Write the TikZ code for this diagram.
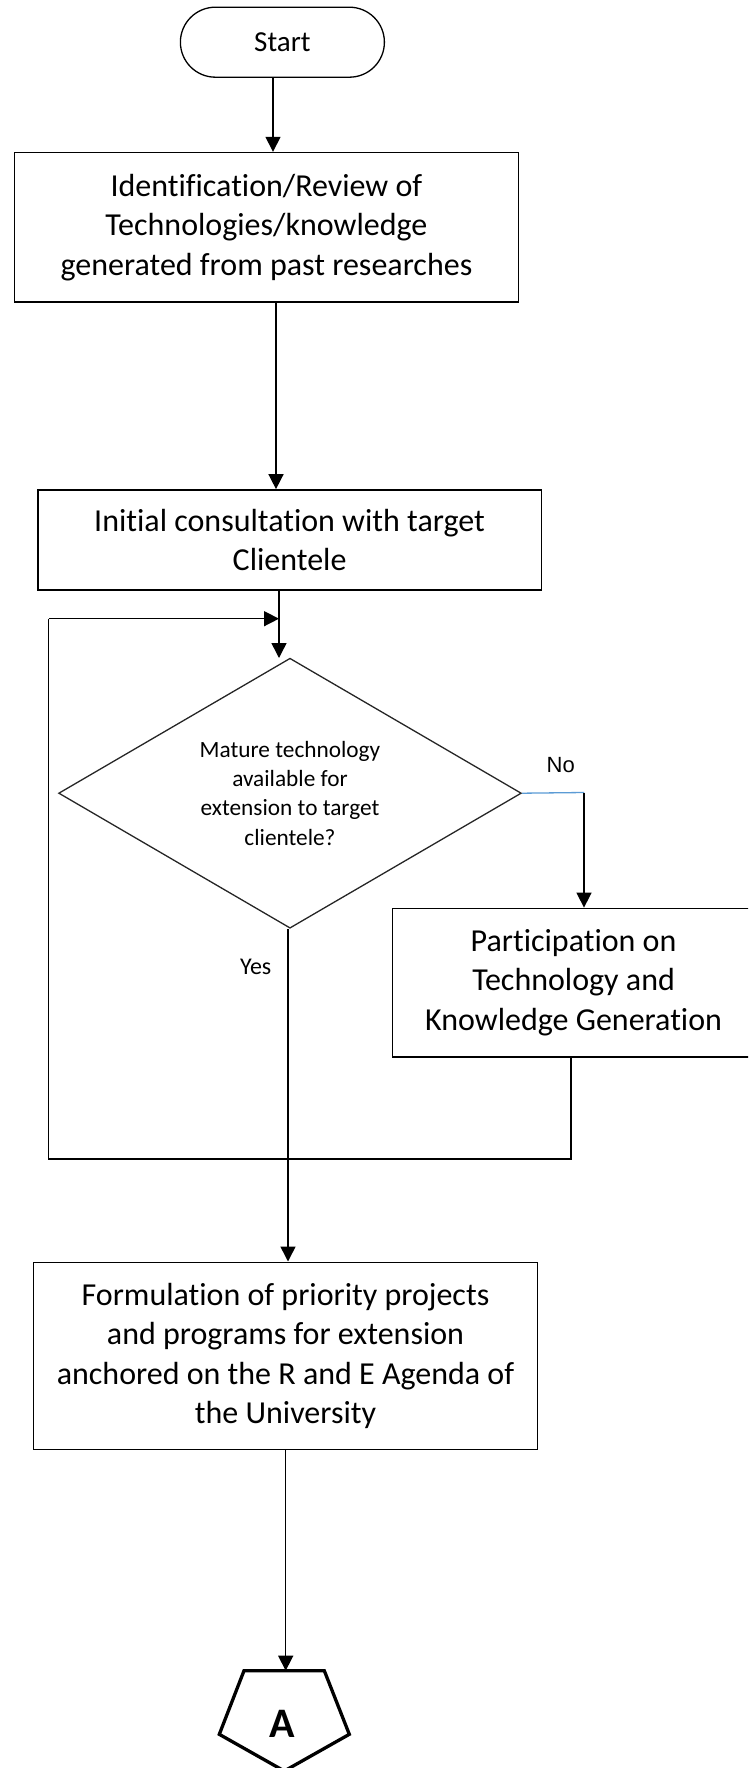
\documentclass[tikz,border=0pt]{standalone}
\usepackage{fontspec}
\setmainfont{Carlito}[Ligatures=NoCommon]
\newfontfamily\labelfont{Liberation Sans}
\usetikzlibrary{arrows.meta,shapes.geometric,shapes.misc}
\definecolor{nolink}{RGB}{91,155,213}
\begin{document}
\begin{tikzpicture}[x=1pt,y=-1pt,
  proc/.style={draw=black, line width=1.6pt, rectangle, inner sep=0pt,
    align=center, font=\fontsize{32}{39.5}\selectfont},
  terminal/.style={draw=black, line width=1.3pt, rounded rectangle, inner sep=0pt,
    minimum width=204pt, minimum height=70pt, font=\fontsize{29}{34}\selectfont},
  decision/.style={draw=black!85, line width=1.3pt, diamond, inner sep=0pt, aspect=1.714,
    minimum width=462.7pt, minimum height=270pt, align=center,
    font=\fontsize{23.3}{29.3}\selectfont},
  flow/.style={line width=1.5pt, -{Triangle[length=15pt,width=15pt]}},
  plain/.style={line width=1.5pt},
  yesno/.style={inner sep=0pt}
]
\useasboundingbox (0,0) rectangle (748,1768);
\clip (0,0) rectangle (748,1768);

% process steps
\node[terminal] (start) at (282.4,42.2) {Start};
\node[proc, minimum width=504.2pt, minimum height=149.4pt] (review) at (266.4,227.3)
  {Identification/Review of\\Technologies/knowledge\\generated from past researches};
\node[proc, minimum width=503.7pt, minimum height=100.1pt] (consult) at (289.6,540)
  {Initial consultation with target\\Clientele};
\node[decision] (mature) at (290,793.2)
  {Mature technology\\available for\\extension to target\\clientele?};
\node[proc, minimum width=362pt, minimum height=148.6pt] (partic) at (573.6,982.7)
  {Participation on\\Technology and\\Knowledge Generation};
\node[proc, minimum width=504.2pt, minimum height=187pt] (formul) at (285.5,1355.8)
  {Formulation of priority projects\\and programs for extension\\anchored on the R and E Agenda of\\the University};

% off-page connector
\draw[line width=3.3pt, line join=miter]
  (244,1670.7) -- (324.3,1670.7) -- (349.3,1734.3) -- (284.3,1771) -- (219.3,1734.3) -- cycle;
\coordinate (pagetop) at (285.7,1670.7);
\node[inner sep=0pt, font=\bfseries\fontsize{42}{42}\selectfont] (pageA) at (282,1723.6) {A};

% branch labels
\node[yesno, font=\labelfont\fontsize{22}{24}\selectfont] (nolabel) at (560.8,765) {No};
\node[yesno, font=\fontsize{24}{28}\selectfont] (yeslabel) at (255.7,967.3) {Yes};

% helper points for the routed connectors
\coordinate (nobend) at (584,792.5);
\coordinate (loopdrop) at (571,1159);
\coordinate (loopleft) at (48.7,1159);
\coordinate (looptop) at (48.7,618.7);
\coordinate (loopjoin) at (279,618.7);

% connectors
\draw[flow] (start.south -| 273,0) -- (review.north -| 273,0);
\draw[flow] (review.south -| 276,0) -- (consult.north -| 276,0);
\draw[flow] (consult.south -| 279,0) -- (279,658);
\draw[line width=1.3pt, nolink] (mature.east) -- (nobend);
\draw[flow] (nobend) -- (partic.north -| nobend);
\draw[plain] (partic.south -| loopdrop) -- (loopdrop) -- (loopleft) -- (looptop);
\draw[flow] (looptop) -- (loopjoin);
\draw[flow] (mature.south -| 288,0) -- (formul.north -| 288,0);
\draw[flow] (formul.south -| pagetop) -- (pagetop);
\end{tikzpicture}
\end{document}
